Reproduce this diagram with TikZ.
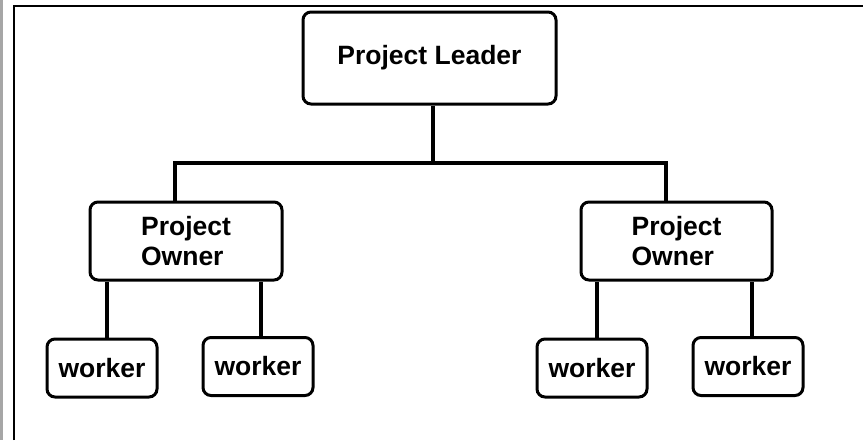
\documentclass[tikz,border=0pt]{standalone}
\usepackage{fontspec}
\setmainfont{Liberation Sans}
\usepackage{tikz}

\tikzset{
    box/.style={draw, rounded corners=8pt, line width=3pt, align=left, inner sep=0pt,
        font=\bfseries\fontsize{26.5}{30}\selectfont},
    wire/.style={line width=3.3pt}
}

\begin{document}
\begin{tikzpicture}[x=1pt, y=-1pt, line width=2pt]
    \useasboundingbox (0,0) rectangle (863,440);
    \fill[gray!70] (0,0) rectangle (3,440);
    \draw (14,440) -- (14,6) -- (863,6);

    \node[box, minimum width=253pt, minimum height=92pt] (leader) at (429.5,58) {Project Leader};
    \node[box, minimum width=192pt, minimum height=78pt] (lowner) at (186,241) {Project\\Owner};
    \node[box, minimum width=191pt, minimum height=78pt] (rowner) at (676.5,241) {Project\\Owner};

    \node[box, minimum width=110pt, minimum height=58pt] (w1) at (102,368) {worker};
    \node[box, minimum width=110pt, minimum height=58pt] (w2) at (258,366.5) {worker};
    \node[box, minimum width=110pt, minimum height=58pt] (w3) at (592,368) {worker};
    \node[box, minimum width=110pt, minimum height=58pt] (w4) at (748,366.5) {worker};

    \coordinate (hub) at (433,163);
    \draw[wire] ([xshift=3.5pt]leader.south) -- (hub);
    \draw[wire] ([xshift=-11pt]lowner.north) |- (hub) -| ([xshift=-10.5pt]rowner.north);

    \draw[wire] ([xshift=5pt]w1.north) -- ([xshift=5pt]w1.north |- lowner.south);
    \draw[wire] ([xshift=3pt]w2.north) -- ([xshift=3pt]w2.north |- lowner.south);
    \draw[wire] ([xshift=5pt]w3.north) -- ([xshift=5pt]w3.north |- rowner.south);
    \draw[wire] ([xshift=4pt]w4.north) -- ([xshift=4pt]w4.north |- rowner.south);
\end{tikzpicture}
\end{document}
